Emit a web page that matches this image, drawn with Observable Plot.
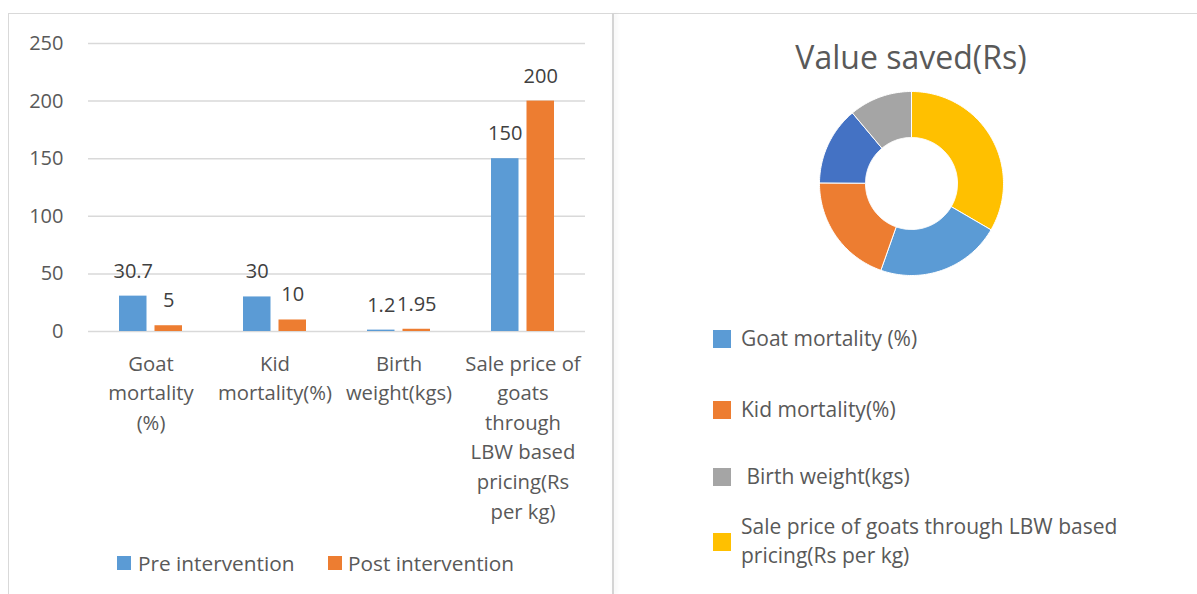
<!DOCTYPE html>
<html>
<head>
<meta charset="utf-8">
<script src="https://cdn.jsdelivr.net/npm/d3@7"></script>
<script src="https://cdn.jsdelivr.net/npm/@observablehq/plot@0.6"></script>
<style>
  body { margin: 0; background: #fff; font-family: "Open Sans", sans-serif; }
  #page { position: relative; width: 1197px; height: 594px; overflow: hidden; background: #fff; }
  .abs { position: absolute; }
  #frameTop { left: 8px; top: 13px; width: 1189px; height: 0; border-top: 1.5px solid #d9d9d9; }
  #frameLeft { left: 8px; top: 13px; width: 0; height: 581px; border-left: 1.5px solid #d9d9d9; }
  #divider { left: 612px; top: 13px; width: 0; height: 581px; border-left: 2px solid #d4d4d4; box-shadow: 2px 0 4px rgba(0,0,0,0.08); }
  .sw { position: absolute; }
  .lt { position: absolute; white-space: pre; color: #595959; line-height: 29px; }
  #title { left: 711px; width: 400px; top: 37px; line-height: 40px; text-align: center; font-size: 32px; color: #595959; }
</style>
</head>
<body>
<div id="page">
  <div id="frameTop" class="abs"></div>
  <div id="frameLeft" class="abs"></div>
  <div id="divider" class="abs"></div>
  <div id="barChart" class="abs" style="left:0;top:0;"></div>
  <div id="title" class="abs"></div>
  <div id="donut" class="abs" style="left:811px;top:83px;"></div>
  <div id="legends"></div>
</div>
<script>
// ---------- Data: left bar chart ----------
const categories = [
  "Goat mortality (%)",
  "Kid mortality(%)",
  "Birth weight(kgs)",
  "Sale price of goats through LBW based pricing(Rs per kg)"
];
const categoryTickLabels = [
  "Goat\nmortality\n(%)",
  "Kid\nmortality(%)",
  "Birth\nweight(kgs)",
  "Sale price of\ngoats\nthrough\nLBW based\npricing(Rs\nper kg)"
];
const seriesNames = ["Pre intervention", "Post intervention"];
const preValues = [30.7, 30, 1.2, 150];
const postValues = [5, 10, 1.95, 200];
const yTicks = [0, 50, 100, 150, 200, 250];
const seriesColors = ["#5B9BD5", "#ED7D31"];

// ---------- Data: right doughnut chart ----------
const donutTitle = "Value saved(Rs)";
const donutSlices = ["Sale price of goats through LBW based pricing(Rs per kg)", "Goat mortality (%)", "Kid mortality(%)", "Other", "Birth weight(kgs)"];
const donutValues = [33.4, 22.0, 19.7, 13.8, 11.1];
const donutColors = ["#FFC000", "#5B9BD5", "#ED7D31", "#4472C4", "#A5A5A5"];
const donutLegendLabels = ["Goat mortality (%)", "Kid mortality(%)", " Birth weight(kgs)", "Sale price of goats through LBW based\npricing(Rs per kg)"];
const donutLegendColors = ["#5B9BD5", "#ED7D31", "#A5A5A5", "#FFC000"];

// ---------- Bar chart ----------
const rows = categories.flatMap((c, i) => [
  {category: c, series: seriesNames[0], value: preValues[i]},
  {category: c, series: seriesNames[1], value: postValues[i]}
]);
const tickLabelOf = new Map(categories.map((c, i) => [c, categoryTickLabels[i]]));
const W = 605, H = 540;
const pre = rows.filter(d => d.series === seriesNames[0]);
const post = rows.filter(d => d.series === seriesNames[1]);
const half = 17.75;

const barPlot = Plot.plot({
  width: W, height: H,
  marginLeft: 88, marginRight: 20, marginTop: 43, marginBottom: H - 331,
  style: {fontFamily: "Open Sans", fontSize: "20px", color: "#595959", background: "transparent", overflow: "visible"},
  x: {domain: categories, paddingInner: 0.49, paddingOuter: 0.24},
  y: {domain: [0, 250]},
  marks: [
    Plot.ruleY(yTicks, {stroke: "#d9d9d9", strokeWidth: 1.5}),
    Plot.barY(pre, {x: "category", y: "value", fill: seriesColors[0], insetRight: 35.5}),
    Plot.barY(post, {x: "category", y: "value", fill: seriesColors[1], insetLeft: 35.5}),
    Plot.text(pre, {x: "category", y: "value", text: d => String(d.value), dx: -half, dy: -25, fill: "#404040", fontSize: 20}),
    Plot.text(post, {x: "category", y: "value", text: d => String(d.value), dx: half, dy: -25, fill: "#404040", fontSize: 20}),
    Plot.axisY({ticks: yTicks, tickSize: 0, tickPadding: 25, fontSize: 20, label: null}),
    Plot.axisX({tickSize: 0, tickPadding: 18, fontSize: 20.3, lineHeight: 1.46, tickFormat: c => tickLabelOf.get(c), label: null})
  ]
});
document.getElementById("barChart").appendChild(barPlot);

// ---------- Doughnut chart ----------
const pie = d3.pie().sort(null).value(d => d.value)(donutSlices.map((s, i) => ({slice: s, value: donutValues[i], color: donutColors[i]})));
const rOuter = 1, rInner = 0.5;
const pts = [];
pie.forEach(p => {
  const n = Math.max(8, Math.ceil((p.endAngle - p.startAngle) / 0.02));
  const ring = [];
  for (let k = 0; k <= n; k++) { const a = p.startAngle + (p.endAngle - p.startAngle) * k / n; ring.push([rOuter * Math.sin(a), rOuter * Math.cos(a)]); }
  for (let k = n; k >= 0; k--) { const a = p.startAngle + (p.endAngle - p.startAngle) * k / n; ring.push([rInner * Math.sin(a), rInner * Math.cos(a)]); }
  ring.push(ring[0]);
  ring.forEach(([x, y]) => pts.push({slice: p.data.slice, color: p.data.color, x, y}));
});
const R = 100 / 92;
const donutPlot = Plot.plot({
  width: 200, height: 200, margin: 0,
  style: {background: "transparent", overflow: "visible"},
  x: {domain: [-R, R], axis: null},
  y: {domain: [-R, R], axis: null},
  color: {type: "identity"},
  marks: [
    Plot.line(pts, {x: "x", y: "y", z: "slice", fill: "color", stroke: "white", strokeWidth: 1})
  ]
});
document.getElementById("donut").appendChild(donutPlot);
document.getElementById("title").textContent = donutTitle;

// ---------- Legends ----------
const lg = document.getElementById("legends");
function addSwatch(x, y, s, color) {
  const d = document.createElement("div");
  d.className = "sw";
  Object.assign(d.style, {left: x + "px", top: y + "px", width: s + "px", height: s + "px", background: color});
  lg.appendChild(d);
}
function addText(x, yCenter, text, size) {
  const d = document.createElement("div");
  d.className = "lt";
  d.textContent = text;
  Object.assign(d.style, {left: x + "px", top: (yCenter - 14.5) + "px", fontSize: size + "px"});
  lg.appendChild(d);
}
// left legend
addSwatch(117, 556, 14, seriesColors[0]); addText(138, 563, seriesNames[0], 20.8);
addSwatch(328, 556, 14, seriesColors[1]); addText(348, 563, seriesNames[1], 20.8);
// right legend
const rightRows = [338, 409, 476, 526];
const rightSw = [330, 401, 468, 533];
donutLegendLabels.forEach((t, i) => {
  addSwatch(713, rightSw[i], 18, donutLegendColors[i]);
  addText(741, rightRows[i], t, 21);
});
</script>
</body>
</html>
